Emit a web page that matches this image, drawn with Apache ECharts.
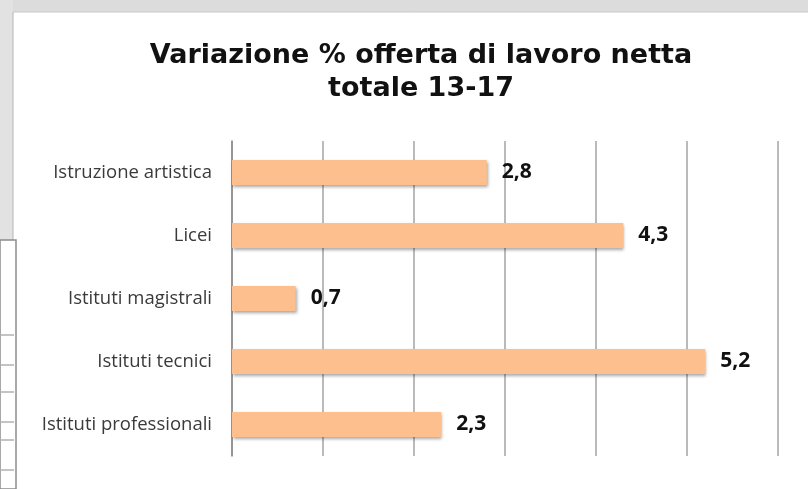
<!DOCTYPE html>
<html>
<head>
<meta charset="utf-8">
<script src="https://cdn.jsdelivr.net/npm/echarts@6/dist/echarts.min.js"></script>
<style>
  html, body { margin: 0; padding: 0; background: #fff; }
  #chart { width: 808px; height: 489px; }
</style>
</head>
<body>
<div id="chart"></div>
<script>
// categorie e valori (variazione %)
const categories = ['Istruzione artistica', 'Licei', 'Istituti magistrali', 'Istituti tecnici', 'Istituti professionali']
const values = [2.8, 4.3, 0.7, 5.2, 2.3]

const myChart = echarts.init(document.getElementById('chart'))

// cornice dello screenshot (bordi grigi e tabella a sinistra)
const frame = [
  { type: 'rect', shape: { x: 0, y: 0, width: 808, height: 12 }, style: { fill: '#dcdcdc' } },
  { type: 'rect', shape: { x: 0, y: 0, width: 13, height: 240 }, style: { fill: '#e2e2e2' } },
  { type: 'line', shape: { x1: 13, y1: 12, x2: 13, y2: 240 }, style: { stroke: '#b5b5b5', lineWidth: 1 } },
  { type: 'line', shape: { x1: 13, y1: 12, x2: 808, y2: 12 }, style: { stroke: '#c8c8c8', lineWidth: 1 } },
  { type: 'rect', shape: { x: 0, y: 240, width: 16, height: 249 }, style: { fill: '#fff', stroke: '#8c8c8c', lineWidth: 1.5 } }
]
;[335, 365, 392, 422, 440, 470].forEach((y) => {
  frame.push({ type: 'line', shape: { x1: 0, y1: y, x2: 14, y2: y }, style: { stroke: '#b0b0b0', lineWidth: 1.5 } })
})

const options = {
  backgroundColor: '#fff',
  title: {
    text: 'Variazione % offerta di lavoro netta\ntotale 13-17',
    // centro del titolo a x=416, come nel riferimento
    left: 416,
    textAlign: 'center',
    top: 34,
    textStyle: {
      fontFamily: 'DejaVu Sans',
      fontWeight: 'bold',
      fontSize: 27,
      lineHeight: 33,
      color: '#111'
    }
  },
  grid: { left: 232, right: 30, top: 141, bottom: 33 },
  xAxis: {
    type: 'value',
    min: 0,
    max: 6,
    interval: 1,
    axisLine: { show: false },
    axisTick: { show: false },
    axisLabel: { show: false },
    splitLine: { lineStyle: { color: '#a3a3a3', width: 1.5 } }
  },
  yAxis: {
    type: 'category',
    inverse: true,
    data: categories,
    axisLine: { lineStyle: { color: '#8a8a8a', width: 1.5 } },
    axisTick: { length: 5, lineStyle: { color: '#8a8a8a', width: 1.5 } },
    axisLabel: {
      fontFamily: 'Open Sans',
      fontSize: 18.5,
      color: '#3a3a3a',
      margin: 20,
      padding: [6, 0, 0, 0]
    }
  },
  series: [
    {
      type: 'bar',
      data: values,
      barWidth: 25,
      itemStyle: {
        color: '#fcbf8d',
        shadowColor: 'rgba(0,0,0,0.35)',
        shadowBlur: 3,
        shadowOffsetX: 1,
        shadowOffsetY: 2
      },
      label: {
        show: true,
        position: 'right',
        distance: 15,
        fontFamily: 'Open Sans',
        fontWeight: 'bold',
        fontSize: 21,
        color: '#111',
        padding: [8, 0, 0, 0],
        formatter: (p) => String(p.value).replace('.', ',')
      }
    }
  ],
  graphic: frame
}
myChart.setOption(options)
</script>
</body>
</html>
